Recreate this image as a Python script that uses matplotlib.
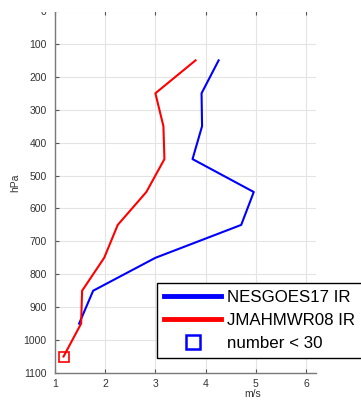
import matplotlib
matplotlib.use("Agg")
import matplotlib.pyplot as plt
from matplotlib.lines import Line2D
from matplotlib.patches import Rectangle

plt.rcParams['font.family'] = ['Liberation Sans', 'DejaVu Sans']

# Pressure levels (hPa)
levels_goes = [150, 250, 350, 450, 550, 650, 750, 850, 950]
levels_jma = [150, 250, 350, 450, 550, 650, 750, 850, 950, 1050]

# Wind speed values (m/s)
speed_goes = [4.26, 3.92, 3.93, 3.74, 4.96, 4.71, 3.00, 1.76, 1.48]
speed_jma = [3.80, 3.00, 3.16, 3.18, 2.82, 2.25, 1.98, 1.54, 1.52, 1.17]

# Levels where the sample count falls below 30
low_count_level_jma = [1050]
low_count_speed_jma = [1.17]

legend_labels = ['NESGOES17 IR', 'JMAHMWR08 IR', 'number < 30']
xticks = [1, 2, 3, 4, 5, 6]
yticks = list(range(0, 1101, 100))

W, H = 361, 405
fig = plt.figure(figsize=(W / 100, H / 100), dpi=100)
ax = fig.add_axes([55 / W, 1 - 373 / H, (316 - 55) / W, (373 - 11) / H])

ax.plot(speed_goes, levels_goes, color='#0000ff', lw=1.5, zorder=3)
ax.plot(speed_jma, levels_jma, color='#ff0000', lw=1.5, zorder=3)
ax.plot(low_count_speed_jma, low_count_level_jma, linestyle='none', marker='s',
        markersize=6.5, markerfacecolor='none', markeredgecolor='#ff0000',
        markeredgewidth=1.2, zorder=4)

ax.set_xlim(1, 6.2)
ax.set_ylim(1100, 0)
ax.set_xticks(xticks)
ax.set_yticks(yticks)
ax.grid(True, color='#e4e4e4', lw=0.8)
ax.set_axisbelow(True)

for side in ['top', 'right']:
    ax.spines[side].set_visible(False)
for side in ['left', 'bottom']:
    ax.spines[side].set_color('#7a7a7a')
    ax.spines[side].set_linewidth(1.0)

ax.tick_params(axis='both', direction='in', length=3, width=0.8, color='#555555',
               labelsize=7.5, labelcolor='#333333', top=True)
ax.tick_params(axis='x', pad=4)
ax.tick_params(axis='y', pad=6)

ax.set_xlabel('m/s', fontsize=7.5, color='#333333')
ax.xaxis.set_label_coords((253 - 55) / (316 - 55), -0.045)
ax.set_ylabel('hPa', fontsize=7.5, color='#333333')
ax.yaxis.set_label_coords(-0.135, (373 - 183) / (373 - 11))

# The figure's top strip is blank above the plotting area
fig.patches.append(Rectangle((0, 1 - 12 / H), 1, 12 / H, transform=fig.transFigure,
                             facecolor='white', edgecolor='none', zorder=10))

handles = [
    Line2D([], [], color='#0000ff', lw=3.5),
    Line2D([], [], color='#ff0000', lw=3.5),
    Line2D([], [], linestyle='none', marker='s', markersize=10,
           markerfacecolor='none', markeredgecolor='#0000ff', markeredgewidth=1.8),
]
leg = fig.legend(handles, legend_labels, loc='upper left',
                 bbox_to_anchor=(157 / W, 1 - 283 / H), bbox_transform=fig.transFigure,
                 fontsize=12.2, frameon=True, fancybox=False, framealpha=1,
                 edgecolor='black', borderaxespad=0, borderpad=0.4,
                 handlelength=3.4, handletextpad=0.35, labelspacing=0.48)
leg.get_frame().set_linewidth(1.0)

fig.savefig('out.png', dpi=100)
